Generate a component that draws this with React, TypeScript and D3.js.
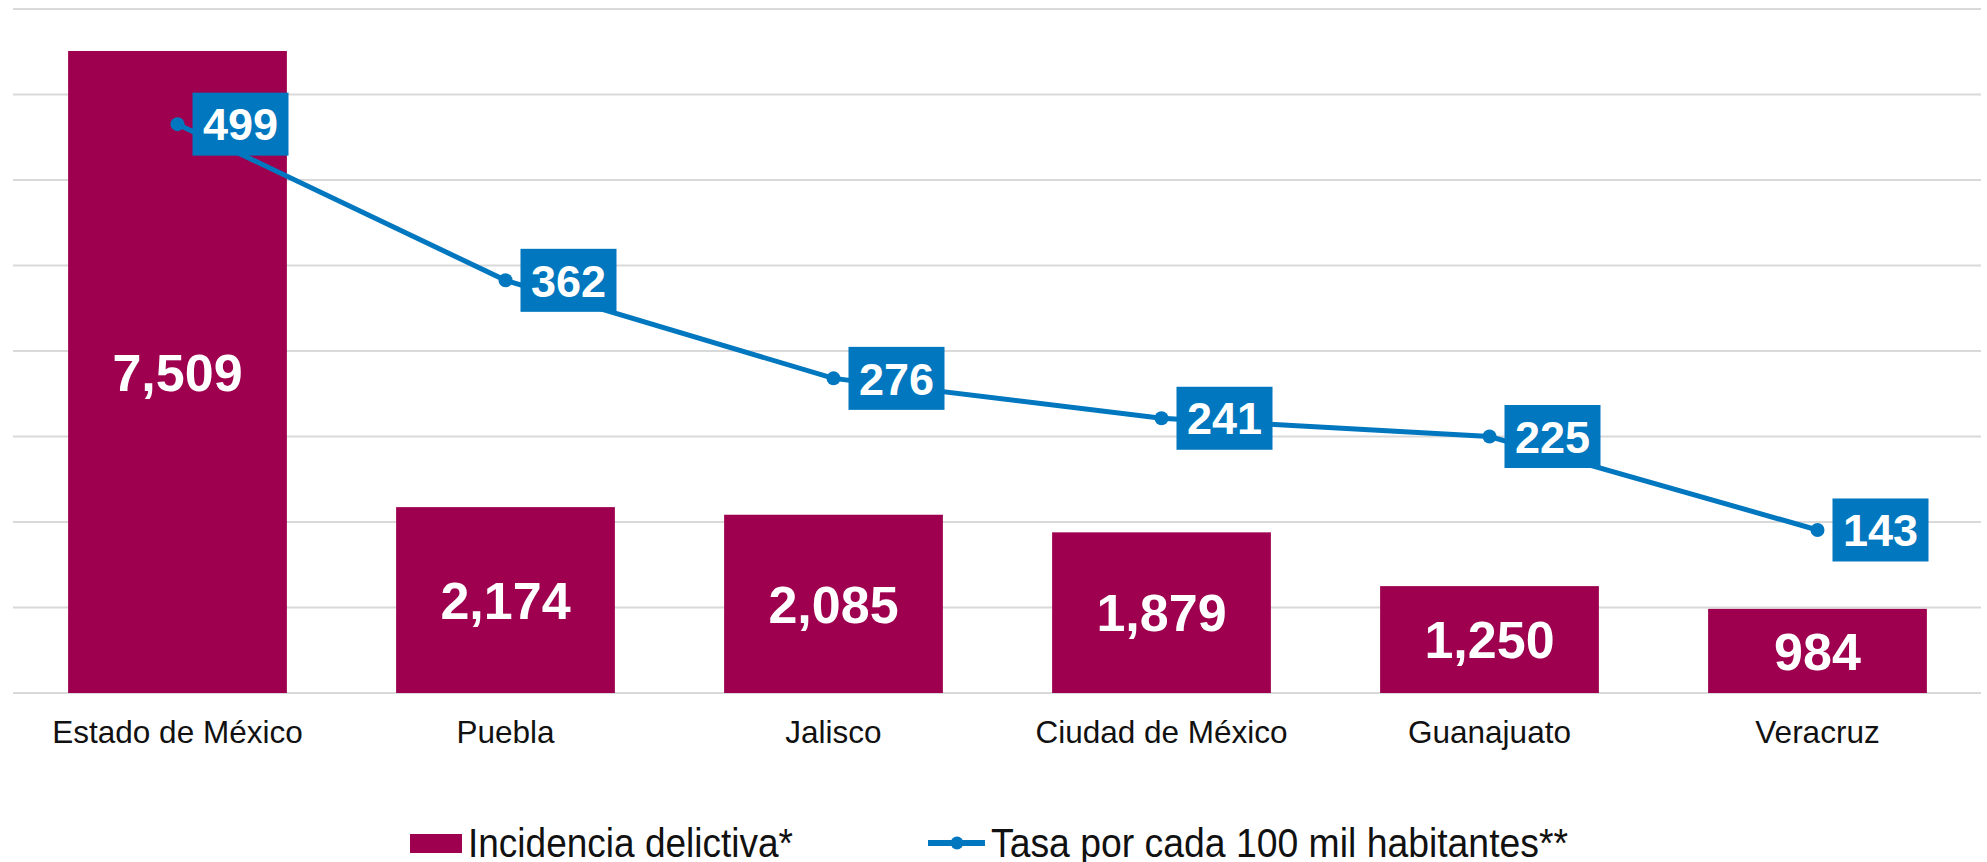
import React from "react";
import * as d3 from "d3";

const categories = ["Estado de México", "Puebla", "Jalisco", "Ciudad de México", "Guanajuato", "Veracruz"];
const incidencia = [7509, 2174, 2085, 1879, 1250, 984];
const tasa = [499, 362, 276, 241, 225, 143];
const leftTicks = [0, 1000, 2000, 3000, 4000, 5000, 6000, 7000, 8000];
const seriesNames = ["Incidencia delictiva*", "Tasa por cada 100 mil habitantes**"];

const W = 1987;
const H = 862;
const BAR = "#9E004F";
const LINE = "#0077BE";
const FONT = "'Liberation Sans', Arial, Helvetica, sans-serif";

export default function App() {
  const x = d3
    .scaleBand<string>()
    .domain(categories)
    .range([13.5, 1981.5])
    .paddingInner(0.333)
    .paddingOuter(0.1665);
  const y = d3.scaleLinear().domain([0, 8000]).range([693, 9]);
  const y2 = d3.scaleLinear().domain([0, 600]).range([693, 9]);
  const fmt = d3.format(",");
  const cx = (c: string) => (x(c) as number) + x.bandwidth() / 2;

  const linePath = d3
    .line<number>()
    .x((_, i) => cx(categories[i]))
    .y((d) => y2(d))(tasa) as string;

  return (
    <svg
      width={W}
      height={H}
      style={{ position: "absolute", left: 0, top: 0, background: "#fff" }}
      fontFamily={FONT}
    >
      {leftTicks.map((t) => (
        <line key={t} x1={13} x2={1981} y1={y(t)} y2={y(t)} stroke="#d9d9d9" strokeWidth={2} />
      ))}
      {categories.map((c, i) => (
        <g key={c}>
          <rect x={x(c)} y={y(incidencia[i])} width={x.bandwidth()} height={y(0) - y(incidencia[i])} fill={BAR} />
          <text
            x={cx(c)}
            y={(y(incidencia[i]) + y(0)) / 2}
            dy="0.36em"
            textAnchor="middle"
            fill="#fff"
            fontWeight="bold"
            fontSize={52}
          >
            {fmt(incidencia[i])}
          </text>
          <text x={cx(c)} y={743} textAnchor="middle" fill="#111" fontSize={31.5}>
            {c}
          </text>
        </g>
      ))}
      <path d={linePath} fill="none" stroke={LINE} strokeWidth={5} />
      {categories.map((c, i) => (
        <g key={"p" + c}>
          <circle cx={cx(c)} cy={y2(tasa[i])} r={7} fill={LINE} />
          <rect x={cx(c) + 15} y={y2(tasa[i]) - 31.5} width={96} height={63} fill={LINE} />
          <text
            x={cx(c) + 63}
            y={y2(tasa[i])}
            dy="0.36em"
            textAnchor="middle"
            fill="#fff"
            fontWeight="bold"
            fontSize={45}
          >
            {tasa[i]}
          </text>
        </g>
      ))}
      {/* Legend */}
      <rect x={410} y={834} width={52} height={19} fill={BAR} />
      <text x={468} y={857} fontSize={40} fill="#111" textLength={325} lengthAdjust="spacingAndGlyphs">
        {seriesNames[0]}
      </text>
      <line x1={928} x2={985} y1={843} y2={843} stroke={LINE} strokeWidth={6} />
      <circle cx={957} cy={843} r={6.5} fill={LINE} />
      <text x={991} y={857} fontSize={40} fill="#111" textLength={577} lengthAdjust="spacingAndGlyphs">
        {seriesNames[1]}
      </text>
    </svg>
  );
}
